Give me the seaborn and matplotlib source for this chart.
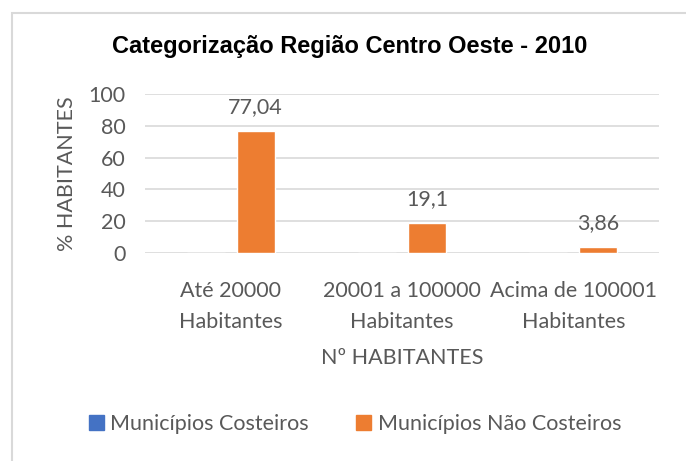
import pandas as pd
import seaborn as sns
import matplotlib.pyplot as plt
from matplotlib.patches import Rectangle

# data
categories = ["Até 20000\nHabitantes", "20001 a 100000\nHabitantes", "Acima de 100001\nHabitantes"]
series = ["Municípios Costeiros", "Municípios Não Costeiros"]
costeiros = [0, 0, 0]
nao_costeiros = [77.04, 19.1, 3.86]
y_ticks = [0, 20, 40, 60, 80, 100]

df = pd.DataFrame({
    "categoria": categories * 2,
    "serie": [series[0]] * 3 + [series[1]] * 3,
    "valor": costeiros + nao_costeiros,
})

sns.set_style("white")
plt.rcParams['font.family'] = ['Lato', 'DejaVu Sans']
txt = "#595959"
fs = 15.5
palette = {series[0]: "#4472C4", series[1]: "#ED7D31"}

fig = plt.figure(figsize=(6.86, 4.61), dpi=100)
ax = fig.add_axes([145 / 686, 1 - 253 / 461, (659 - 145) / 686, (253 - 94) / 461])

sns.barplot(data=df, x="categoria", y="valor", hue="serie", palette=palette,
            width=0.583, gap=0.24, saturation=1, legend=False, ax=ax)

# data labels only on orange series
for cont, s in zip(ax.containers, series):
    if s == series[1]:
        labels = [str(v).replace('.', ',') for v in nao_costeiros]
        ax.bar_label(cont, labels=labels, padding=10, fontsize=fs, color=txt)

ax.set_ylim(0, 100)
ax.set_yticks(y_ticks)
ax.yaxis.grid(True, color="#D9D9D9", linewidth=1.2)
ax.set_axisbelow(True)
for sp in ax.spines.values():
    sp.set_visible(False)
ax.tick_params(axis='both', length=0, labelsize=fs, colors=txt)
ax.tick_params(axis='y', pad=14)
ax.tick_params(axis='x', pad=20)
for lab in ax.get_xticklabels():
    lab.set_linespacing(1.68)
ax.set_ylabel("% HABITANTES", fontsize=fs, color=txt, labelpad=8)
ax.set_xlabel("Nº HABITANTES", fontsize=fs, color=txt, labelpad=12)

fig.text(350 / 686, 1 - 47 / 461, "Categorização Região Centro Oeste - 2010",
         ha='center', va='center', fontsize=17, fontweight='bold',
         family=['Liberation Sans', 'DejaVu Sans'], color='black')

handles = [Rectangle((0, 0), 1, 1, color=palette[s]) for s in series]
fig.legend(handles, series, loc='center', bbox_to_anchor=(355 / 686, 1 - 424 / 461),
           ncol=2, frameon=False, fontsize=fs, labelcolor=txt,
           handlelength=0.7, handleheight=0.7, handletextpad=0.3, columnspacing=2.2)

# chart border
fig.patches.append(Rectangle((12 / 686, -0.05), 1.1, 1 - 13 / 461 + 0.05,
                             transform=fig.transFigure, fill=False,
                             edgecolor="#D9D9D9", linewidth=1.5))

fig.savefig("out.png", dpi=100)
